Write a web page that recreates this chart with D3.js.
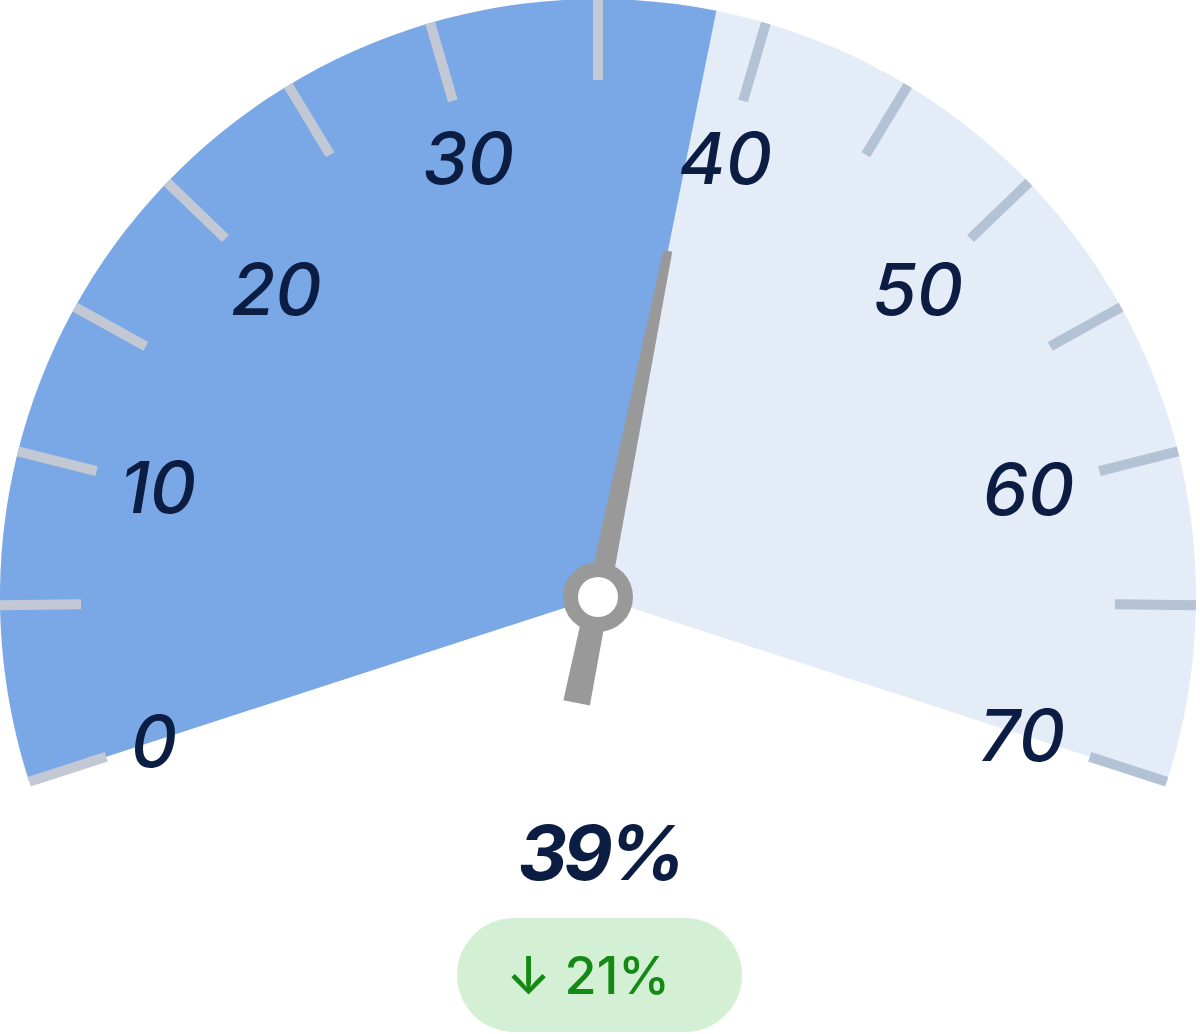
<!DOCTYPE html>
<html lang="en">
<head>
<meta charset="utf-8">
<title>Gauge</title>
<script src="https://cdnjs.cloudflare.com/ajax/libs/d3/7.8.5/d3.min.js"></script>
<style>
  html, body { margin: 0; padding: 0; background: #fff; }
  svg { display: block; }
  text { font-family: Inter, "Open Sans", sans-serif; }
</style>
</head>
<body>
<script>
// data
const scaleMin = 0, scaleMax = 70;
const tickValues = [0, 5, 10, 15, 20, 25, 30, 35, 40, 45, 50, 55, 60, 65, 70];
const labelValues = [0, 10, 20, 30, 40, 50, 60, 70];
const gaugeValue = 38.5;
const changeValue = -21;       // badge, percent

const W = 1200, H = 1034;
const cx = 598, cy = 597;
const R = 598, tickIn = 517;

const svg = d3.select("body").append("svg")
  .attr("width", W).attr("height", H);

// the dial is not evenly spaced (ends and top are a bit wider), so piecewise
const angle = d3.scaleLinear()
  .domain([scaleMin, 5, 30, 35, 40, 65, scaleMax])
  .range([-108, -90.8, -16.3, 0, 16.3, 90.8, 108]);
const rad = d => angle(d) * Math.PI / 180;

const g = svg.append("g").attr("transform", `translate(${cx},${cy})`);
const arc = d3.arc().innerRadius(0).outerRadius(R);

// background + value wedge
g.append("path")
  .attr("d", arc({startAngle: rad(scaleMin), endAngle: rad(scaleMax)}))
  .attr("fill", "#e4ecf8");
g.append("path")
  .attr("d", arc({startAngle: rad(scaleMin), endAngle: rad(gaugeValue)}))
  .attr("fill", "#7aa7e5");

// ticks
g.selectAll("line.tick")
  .data(tickValues)
  .enter().append("line")
  .attr("class", "tick")
  .attr("x1", d => tickIn * Math.sin(rad(d)))
  .attr("y1", d => -tickIn * Math.cos(rad(d)))
  .attr("x2", d => R * Math.sin(rad(d)))
  .attr("y2", d => -R * Math.cos(rad(d)))
  .attr("stroke", d => d <= gaugeValue ? "#c2c9d4" : "#b3c2d5")
  .attr("stroke-width", 10);

// labels: pushed inward by their own half extent along the ray
const fs = 72, capH = fs * 0.73;
const labels = g.selectAll("text.lab")
  .data(labelValues)
  .enter().append("text")
  .attr("class", "lab")
  .attr("text-anchor", "middle")
  .attr("font-size", fs)
  .attr("font-style", "italic")
  .attr("font-weight", 500)
  .attr("fill", "#0b1d42")
  .text(d => d);

labels.each(function(d) {
  const w = this.getComputedTextLength();
  const sx = Math.sin(rad(d)), sy = -Math.cos(rad(d));
  const ext = Math.abs(sx) * w / 2 + Math.abs(sy) * capH / 2;
  const r = 496 - ext;
  d3.select(this)
    .attr("x", r * sx - 1)
    .attr("y", r * sy + capH / 2);
});

// needle
const needle = g.append("g").attr("transform", `rotate(${angle(gaugeValue)})`);
needle.append("path")
  .attr("d", d3.line()([[-13.5, 108], [13.5, 108], [4.5, -353], [-4.5, -353]]) + "Z")
  .attr("fill", "#999999");
g.append("circle").attr("r", 35).attr("fill", "#999999");
g.append("circle").attr("r", 20).attr("fill", "#ffffff");

// value
svg.append("text")
  .attr("x", 600).attr("y", 880)
  .attr("text-anchor", "middle")
  .attr("font-size", 76)
  .attr("font-weight", 700)
  .attr("font-style", "italic")
  .attr("letter-spacing", -4)
  .attr("fill", "#0b1d42")
  .text(Math.round(gaugeValue) + "%");

// change badge
svg.append("rect")
  .attr("x", 457).attr("y", 918)
  .attr("width", 285).attr("height", 114)
  .attr("rx", 57)
  .attr("fill", "#d3f0d4");
svg.append("text")
  .attr("x", 588).attr("y", 994)
  .attr("text-anchor", "middle")
  .attr("font-size", 52)
  .attr("font-weight", 500)
  .attr("fill", "#138a13")
  .text((changeValue < 0 ? "\u2193 " : "\u2191 ") + Math.abs(changeValue) + "%");
</script>
</body>
</html>
